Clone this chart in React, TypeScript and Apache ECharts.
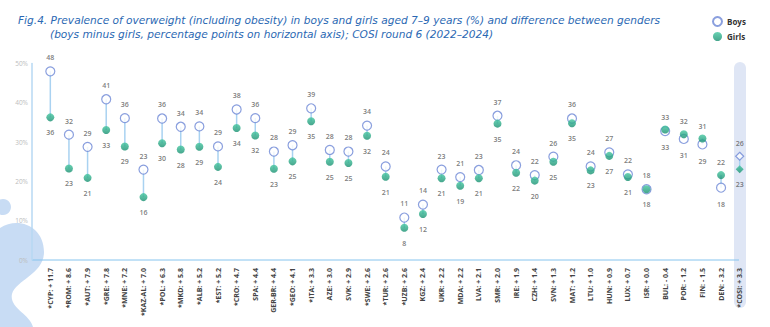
import React, { useEffect, useRef } from "react";
import * as echarts from "echarts";

const categories = [
  "*CYP: + 11.7", "*ROM: + 8.6", "*AUT: + 7.9", "*GRE: + 7.8", "*MNE: + 7.2", "*KAZ-AL: + 7.0",
  "*POL: + 6.3", "*MKD: + 5.8", "*ALB: + 5.2", "*EST: + 5.2", "*CRO: + 4.7", "SPA: + 4.4",
  "GER-BR: + 4.4", "*GEO: + 4.1", "*ITA: + 3.3", "AZE: + 3.0", "SVK: + 2.9", "*SWE: + 2.6",
  "*TUR: + 2.6", "*UZB: + 2.6", "KGZ: + 2.4", "UKR: + 2.2", "MDA: + 2.2", "LVA: + 2.1",
  "SMR: + 2.0", "IRE: + 1.9", "CZH: + 1.4", "SVN: + 1.3", "MAT: + 1.2", "LTU: + 1.0",
  "HUN: + 0.9", "LUX: + 0.7", "ISR: + 0.0", "BUL: - 0.4", "POR: - 1.2", "FIN: - 1.5",
  "DEN: - 3.2", "*COSI: + 3.3",
];

const boys = [
  48.0, 31.9, 28.8, 40.9, 36.1, 23.0, 36.0, 33.9, 34.0, 28.9, 38.3, 36.1, 27.6, 29.2, 38.6, 28.0,
  27.6, 34.2, 23.8, 10.8, 14.1, 23.0, 21.1, 22.9, 36.7, 24.1, 21.6, 26.3, 36.0, 23.8, 27.4, 21.8,
  18.0, 32.8, 30.8, 29.4, 18.4, 26.4,
];

const girls = [
  36.3, 23.3, 20.9, 33.1, 28.9, 16.0, 29.7, 28.1, 28.8, 23.7, 33.6, 31.7, 23.2, 25.1, 35.3, 25.0,
  24.7, 31.6, 21.2, 8.2, 11.7, 20.8, 18.9, 20.8, 34.7, 22.2, 20.2, 25.0, 34.8, 22.8, 26.5, 21.1,
  18.0, 33.2, 32.0, 30.9, 21.6, 23.1,
];

const yTicks = [0, 10, 20, 30, 40, 50];

const titleLine1 =
  "Fig.4. Prevalence of overweight (including obesity) in boys and girls aged 7\u20139 years (%) and difference between genders";
const titleLine2 =
  "(boys minus girls, percentage points on horizontal axis); COSI round 6 (2022\u20132024)";

const blobPath =
  "M0,228 C18,216 44,226 44,252 C44,274 16,280 12,294 C9,308 30,314 33,327 L0,327 Z";

export default function App() {
  const ref = useRef<HTMLDivElement>(null);

  useEffect(() => {
    if (!ref.current) return;
    echarts.graphic.registerShape("blob", echarts.graphic.extendPath(blobPath, {}));
    const chart = echarts.init(ref.current, undefined, { renderer: "svg" });

    const font = "'Open Sans', sans-serif";
    const titleFont = "italic 10.6px 'DejaVu Sans', sans-serif";
    const lastIdx = categories.length - 1;
    const labelBase = {
      show: true,
      fontSize: 7,
      fontFamily: font,
      fontWeight: 600,
      color: "#5a5a5a",
      formatter: (p: any) => String(Math.round(p.value)),
    };

    const boysData = boys.map((v, i) => {
      const upper = v >= girls[i];
      return {
        value: v,
        symbol: i === lastIdx ? "diamond" : "circle",
        symbolSize: i === lastIdx ? 8 : 9,
        label: { ...labelBase, position: upper ? "top" : "bottom", distance: upper ? 5 : 8 },
      };
    });
    const girlsData = girls.map((v, i) => {
      const upper = v > boys[i];
      return {
        value: v,
        symbol: i === lastIdx ? "diamond" : "circle",
        symbolSize: 8,
        label: { ...labelBase, position: upper ? "top" : "bottom", distance: upper ? 5 : 8 },
      };
    });

    const girlsGradient = new echarts.graphic.LinearGradient(0, 0, 0, 1, [
      { offset: 0, color: "#44c7a0" },
      { offset: 1, color: "#178f70" },
    ]);

    chart.setOption({
      animation: false,
      backgroundColor: "#ffffff",
      textStyle: { fontFamily: font },
      grid: { left: 41, right: 21, top: 63.5, bottom: 67, containLabel: false },
      legend: {
        orient: "vertical",
        left: 707,
        top: 11,
        itemWidth: 9,
        itemHeight: 9,
        itemGap: 5,
        textStyle: { fontSize: 8, fontWeight: 700, color: "#333", fontFamily: font },
        data: ["Boys", "Girls"],
      },
      xAxis: {
        type: "category",
        data: categories,
        boundaryGap: true,
        axisLine: { show: false },
        axisTick: { show: false },
        axisLabel: {
          interval: 0,
          rotate: 90,
          margin: 8,
          fontSize: 7,
          fontWeight: 700,
          color: "#444",
          fontFamily: font,
        },
      },
      yAxis: {
        type: "value",
        min: yTicks[0],
        max: yTicks[yTicks.length - 1],
        interval: 10,
        offset: 9,
        axisLine: { show: true, lineStyle: { color: "#b7d9f3", width: 1.5 } },
        axisTick: { show: false },
        splitLine: { show: false },
        axisLabel: {
          formatter: "{value}%",
          fontSize: 6.5,
          color: "#bdbdbd",
          margin: 4,
          fontFamily: font,
        },
      },
      graphic: [
        { type: "circle", shape: { cx: 3, cy: 207, r: 8 }, style: { fill: "#c8dcf4" }, z: -10 },
        { type: "blob", x: 0, y: 0, style: { fill: "#c8dcf4" }, z: -10 },
        {
          type: "rect",
          shape: { x: 734, y: 62, width: 12, height: 246, r: 6 },
          style: { fill: "#dfe6f5" },
          z: -5,
        },
        {
          type: "line",
          shape: { x1: 32, y1: 260, x2: 739, y2: 260 },
          style: { stroke: "#86c4ee", lineWidth: 1 },
          z: -4,
        },
        {
          type: "text",
          x: 18,
          y: 20,
          style: {
            text: titleLine1,
            fill: "#2a68b3",
            font: titleFont,
            verticalAlign: "middle",
          },
        },
        {
          type: "text",
          x: 50,
          y: 33.5,
          style: {
            text: titleLine2,
            fill: "#2a68b3",
            font: titleFont,
            verticalAlign: "middle",
          },
        },
      ],
      series: [
        {
          type: "custom",
          name: "connector",
          z: 1,
          silent: true,
          data: boys.map((b, i) => [i, b, girls[i]]),
          encode: { x: 0, y: [1, 2] },
          renderItem: (params: any, api: any) => {
            const p1 = api.coord([api.value(0), api.value(1)]);
            const p2 = api.coord([api.value(0), api.value(2)]);
            return {
              type: "line",
              shape: { x1: p1[0], y1: p1[1], x2: p2[0], y2: p2[1] },
              style: { stroke: "#a9d2f1", lineWidth: 1.5 },
            };
          },
        },
        {
          type: "scatter",
          name: "Boys",
          z: 3,
          data: boysData,
          itemStyle: { color: "#ffffff", borderColor: "#6d87d6", borderWidth: 1.2 },
        },
        {
          type: "scatter",
          name: "Girls",
          z: 4,
          data: girlsData,
          itemStyle: { color: girlsGradient },
        },
      ],
    });

    return () => chart.dispose();
  }, []);

  return <div ref={ref} style={{ width: 770, height: 327, position: "absolute", left: 0, top: 0 }} />;
}
